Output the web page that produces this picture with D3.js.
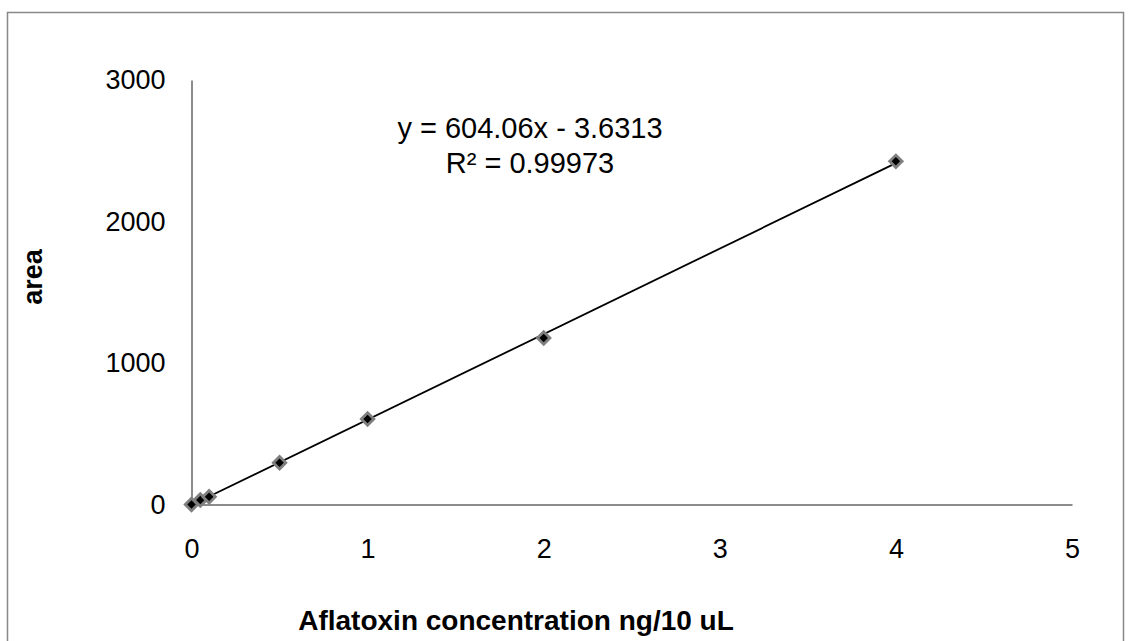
<!DOCTYPE html>
<html>
<head>
<meta charset="utf-8">
<script src="https://cdn.jsdelivr.net/npm/d3@7"></script>
<style>
  body { margin: 0; background: #fff; }
  svg { display: block; font-family: "Liberation Sans", Arial, sans-serif; }
</style>
</head>
<body>
<svg id="chart" width="1131" height="641"></svg>
<script>
// Calibration points: aflatoxin concentration vs. peak area
const concentration = [0, 0.05, 0.1, 0.5, 1, 2, 4];
const area = [0, 32, 55, 295, 604, 1177, 2425];
const xTicks = [0, 1, 2, 3, 4, 5];
const yTicks = [0, 1000, 2000, 3000];
const slope = 604.06, intercept = -3.6313;
const equationText = "y = 604.06x - 3.6313";
const r2Text = "R² = 0.99973";

const svg = d3.select("#chart");

// Outer chart frame
svg.append("rect")
  .attr("x", 7.5).attr("y", 12.5)
  .attr("width", 1116).attr("height", 660)
  .attr("fill", "none").attr("stroke", "#888").attr("stroke-width", 1.5);

const x = d3.scaleLinear().domain([0, 5]).range([191.5, 1072]);
const y = d3.scaleLinear().domain([0, 3000]).range([504.5, 80]);

// Axes (no tick marks, gray domain lines)
const xAxis = svg.append("g").attr("transform", `translate(0,${y(0)})`)
  .call(d3.axisBottom(x).tickValues(xTicks).tickSize(0).tickPadding(44).tickFormat(d3.format("d")));
const yAxis = svg.append("g").attr("transform", `translate(${x(0)},0)`)
  .call(d3.axisLeft(y).tickValues(yTicks).tickSize(0).tickPadding(26).tickFormat(d3.format("d")));
[xAxis, yAxis].forEach(g => {
  g.attr("font-size", null).attr("font-family", null);
  g.select(".domain").attr("stroke", "#8c8c8c").attr("stroke-width", 2);
  g.selectAll("text").style("font-size", "27px").attr("fill", "#000");
});
xAxis.selectAll("text").attr("dy", "0.35em");

// Linear trendline over the data range
const xs = d3.extent(concentration);
svg.append("line")
  .attr("x1", x(xs[0])).attr("y1", y(slope * xs[0] + intercept))
  .attr("x2", x(xs[1])).attr("y2", y(slope * xs[1] + intercept))
  .attr("stroke", "#000").attr("stroke-width", 1.8);

// Diamond markers
const pts = svg.append("g").selectAll("g")
  .data(concentration.map((c, i) => [c, area[i]]))
  .join("g")
  .attr("transform", d => `translate(${x(d[0])},${y(d[1])})`);
pts.append("path").attr("d", d3.symbol(d3.symbolSquare, 135)).attr("transform", "rotate(45)")
  .attr("fill", "#7f7f7f");
pts.append("path").attr("d", d3.symbol(d3.symbolSquare, 36)).attr("transform", "rotate(45)")
  .attr("fill", "#000");

// Regression label
svg.append("text").attr("x", 530).attr("y", 138).attr("text-anchor", "middle")
  .style("font-size", "29px").text(equationText);
svg.append("text").attr("x", 530).attr("y", 173).attr("text-anchor", "middle")
  .style("font-size", "29px").text(r2Text);

// Axis titles
svg.append("text").attr("x", 516).attr("y", 630).attr("text-anchor", "middle")
  .style("font-size", "28px").attr("font-weight", "bold").text("Aflatoxin concentration ng/10 uL");
svg.append("text").attr("transform", "translate(42,277) rotate(-90)").attr("text-anchor", "middle")
  .style("font-size", "27px").attr("font-weight", "bold").text("area");
</script>
</body>
</html>
